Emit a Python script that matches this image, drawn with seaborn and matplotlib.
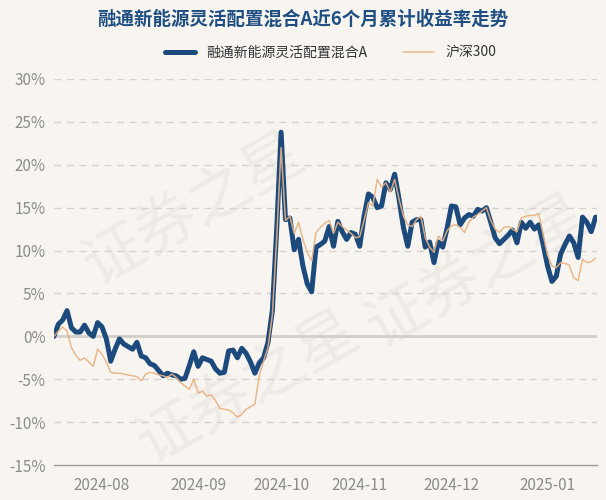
import pandas as pd
import seaborn as sns
import matplotlib.pyplot as plt

# trading days 2024-07-17 .. 2025-01-17 (china holidays removed)
holidays = ['2024-09-16', '2024-09-17', '2024-10-01', '2024-10-02', '2024-10-03',
            '2024-10-04', '2024-10-07', '2025-01-01']
dates = pd.bdate_range('2024-07-17', '2025-01-17', freq='C', holidays=holidays)

fund_name = '融通新能源灵活配置混合A'
index_name = '沪深300'

# cumulative return, %
fund = [0.0, 1.4, 1.9, 3.0, 1.0, 0.5, 0.5, 1.3, 0.4, 0.0,
        1.6, 1.1, -0.3, -2.9, -1.5, -0.3, -0.9, -1.2, -1.5, -0.7,
        -2.3, -2.5, -3.2, -3.4, -4.0, -4.6, -4.3, -4.5, -4.6, -5.0,
        -4.9, -3.4, -1.8, -3.5, -2.5, -2.7, -2.9, -3.8, -4.3, -4.2,
        -1.7, -1.6, -2.5, -1.4, -2.0, -3.0, -4.3, -3.1, -2.5, -0.7,
        3.0, 12.5, 23.8, 13.6, 13.8, 10.1, 11.3, 8.2, 6.1, 5.2,
        10.4, 10.7, 11.1, 12.8, 10.5, 13.4, 12.2, 11.3, 12.1, 11.9,
        10.5, 14.0, 16.6, 16.2, 15.0, 15.2, 17.9, 17.1, 18.9, 16.0,
        12.7, 10.5, 13.3, 13.6, 13.6, 10.4, 11.0, 8.6, 11.0, 10.4,
        12.6, 15.2, 15.1, 13.0, 13.8, 14.2, 14.0, 14.8, 14.6, 15.0,
        13.3, 11.5, 10.8, 11.3, 11.8, 12.4, 10.9, 13.3, 12.6, 13.3,
        12.5, 13.0, 10.7, 8.2, 6.4, 7.0, 9.6, 10.7, 11.7, 10.9,
        9.2, 13.9, 13.3, 12.2, 13.9]
hs300 = [0.0, 0.6, 1.1, 0.6, -1.3, -2.2, -2.8, -2.5, -3.0, -3.5,
         -1.5, -2.1, -3.0, -4.2, -4.3, -4.3, -4.4, -4.5, -4.6, -4.7,
         -5.2, -4.4, -4.2, -4.3, -4.5, -4.6, -4.8, -4.4, -4.8, -5.4,
         -5.8, -6.2, -5.0, -6.6, -6.4, -7.0, -6.8, -7.5, -8.4, -8.5,
         -8.6, -8.9, -9.4, -9.1, -8.5, -8.2, -7.9, -4.6, -2.9, -1.3,
         2.5, 11.5, 22.0, 13.5, 14.0, 12.0, 13.3, 11.3, 9.8, 8.8,
         12.1, 12.7, 13.2, 13.5, 12.0, 13.3, 12.8, 12.4, 12.0, 11.5,
         11.6, 13.5, 15.6, 15.2, 18.3, 17.4, 17.9, 16.8, 18.3, 16.0,
         14.0, 13.0, 12.8, 13.6, 14.0, 11.5, 10.4, 9.8, 11.7, 11.1,
         12.3, 12.9, 13.0, 12.7, 12.1, 13.3, 13.9, 14.2, 14.6, 15.0,
         13.5, 12.5, 12.1, 12.7, 12.8, 12.5, 12.2, 13.8, 14.0, 14.1,
         14.1, 14.3, 11.8, 9.5, 8.2, 8.0, 8.6, 8.5, 8.3, 6.8,
         6.5, 9.0, 8.6, 8.7, 9.1]

df = pd.DataFrame({'i': range(len(dates)), 'date': dates, 'fund': fund, 'hs300': hs300})

sns.set_style('white')
plt.rcParams['font.family'] = ['Noto Sans CJK SC', 'DejaVu Sans']

bg = '#f8f5f1'
fig = plt.figure(figsize=(6.06, 5.0), dpi=100, facecolor=bg)
ax = fig.add_axes([0.089, 0.07, 0.896, 0.772], facecolor=bg)

# faint watermark
for (wx, wy) in [(0.26, 0.66), (0.36, 0.20), (0.78, 0.50)]:
    ax.text(wx, wy, '证券之星', transform=ax.transAxes, fontsize=44, color='#eeebe7',
            rotation=30, ha='center', va='center', zorder=0)

sns.lineplot(data=df, x='i', y='fund', ax=ax, color='#1c4a7c', lw=3.6, zorder=3,
             label=fund_name)
sns.lineplot(data=df, x='i', y='hs300', ax=ax, color='#e8b282', lw=1.1, zorder=4,
             alpha=0.9, label=index_name)

ax.set_ylim(-15, 30)
ax.set_xlim(0, len(dates) - 0.7)
yt = list(range(-15, 31, 5))
ax.set_yticks(yt)
ax.set_yticklabels([f'{v}%' for v in yt], color='#8c8c8c', fontsize=11)
for v in yt:
    if v in (0, -15):
        continue
    ax.axhline(v, color='#d6d3cf', lw=1, ls=(0, (5, 4)), zorder=1)
ax.axhline(0, color='#d2cfcb', lw=2, zorder=1)

# month ticks at first trading day of each month
month_first = df.groupby(df['date'].dt.to_period('M'))['i'].min().iloc[1:]
ax.set_xticks(month_first.values)
ax.set_xticklabels([str(p) for p in month_first.index], color='#8c8c8c', fontsize=11)
ax.tick_params(axis='x', length=5, color='#999999', width=1, pad=4)
ax.tick_params(axis='y', length=0, pad=6)
ax.set_xlabel('')
ax.set_ylabel('')
for s in ['top', 'right', 'left']:
    ax.spines[s].set_visible(False)
ax.spines['bottom'].set_color('#999999')
ax.spines['bottom'].set_linewidth(1)

ax.get_legend().remove()
h, l = ax.get_legend_handles_labels()
fig.legend(h, l, loc='center', bbox_to_anchor=(0.545, 0.895), ncol=2, frameon=False,
           fontsize=10, handlelength=2.2, columnspacing=2.6, labelcolor='#333333')

fig.text(0.5, 0.962, fund_name + '近6个月累计收益率走势', ha='center', va='center',
         fontsize=13.3, fontweight='bold', color='#1f4f82')

plt.savefig('out.png', dpi=100, facecolor=bg)
